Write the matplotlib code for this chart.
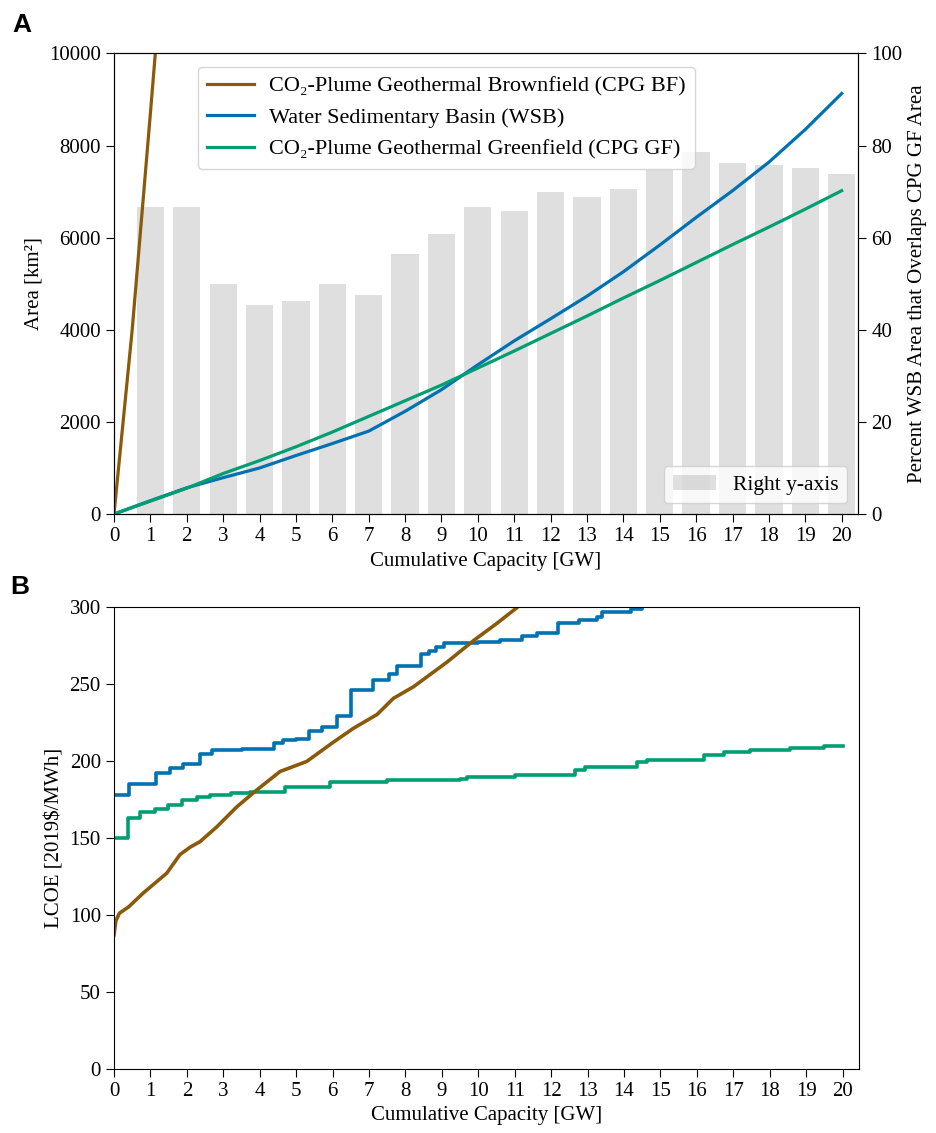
import numpy as np
import matplotlib
matplotlib.use("Agg")
import matplotlib.pyplot as plt

plt.rcParams['font.family'] = ['Liberation Serif', 'DejaVu Serif']
plt.rcParams['font.size'] = 15

# colours
c_bf = '#8a5a0a'
c_wsb = '#0072b2'
c_gf = '#009e73'

# panel A: cumulative area [km2] vs capacity [GW]
cap_a = [0, 1, 2, 3, 4, 5, 6, 7, 8, 9, 10, 11, 12, 13, 14, 15, 16, 17, 18, 19, 20]
area_wsb = [0, 290, 570, 790, 1000, 1270, 1530, 1800, 2230, 2700, 3240, 3760,
            4240, 4730, 5260, 5840, 6440, 7020, 7640, 8350, 9130]
area_gf = [0, 280, 560, 880, 1160, 1460, 1780, 2120, 2460, 2800, 3170, 3540,
           3920, 4300, 4690, 5070, 5460, 5850, 6230, 6620, 7020]
cap_bf_a = [0, 0.5, 1.0, 1.5]
area_bf = [0, 4000, 8700, 13500]

# percent of WSB area overlapping CPG GF area (right axis)
bar_gw = [1, 2, 3, 4, 5, 6, 7, 8, 9, 10, 11, 12, 13, 14, 15, 16, 17, 18, 19, 20]
overlap_pct = [66.7, 66.7, 50.0, 45.4, 46.2, 50.0, 47.5, 56.5, 60.9, 66.7,
               65.9, 69.9, 68.9, 70.5, 74.6, 78.5, 76.2, 75.7, 75.1, 73.8]

# panel B: LCOE supply curves
cap_wsb_b = [0, 0.42, 1.15, 1.54, 1.9, 2.36, 2.7, 3.5, 4.38, 4.63, 5.0, 5.34,
             5.72, 6.12, 6.5, 7.12, 7.56, 7.77, 8.43, 8.64, 8.85, 9.07, 10.0,
             10.6, 11.2, 11.6, 12.2, 12.76, 13.26, 13.4, 14.2, 14.5]
lcoe_wsb = [178, 185, 192, 195, 198, 204.5, 206.7, 207.5, 211.7, 213.4, 214,
            219.5, 222, 229.2, 245.9, 252.4, 256.1, 261.5, 269.3, 271.2, 274,
            276.2, 277, 278.4, 281, 283, 289.2, 291.4, 293.5, 296.8, 298.3, 302]

cap_gf_b = [0, 0.39, 0.71, 1.13, 1.49, 1.86, 2.27, 2.64, 3.2, 3.74, 4.7, 5.93,
            7.5, 9.5, 9.69, 11.0, 12.66, 12.94, 14.36, 14.63, 16.19, 16.74,
            17.47, 18.57, 19.49, 20.0]
lcoe_gf = [150, 163, 166.5, 168.8, 171.2, 174.5, 176.6, 177.7, 178.8, 179.9,
           183, 186.4, 187.2, 187.9, 189.6, 190.5, 194, 195.7, 199, 200.4,
           203.5, 205.8, 207, 208.4, 209.5, 209.5]

cap_bf_b = [0, 0.05, 0.15, 0.4, 0.8, 1.2, 1.45, 1.81, 2.1, 2.36, 2.82, 3.37,
            3.92, 4.56, 5.29, 6.02, 6.57, 7.22, 7.67, 8.22, 9.14, 9.87, 10.5, 11.2]
lcoe_bf = [87, 96, 101, 105, 114, 122, 127, 139, 144, 147.4, 157, 170, 181,
           193, 199.5, 212, 221, 230, 240.5, 248, 264, 278, 289, 302]

xticks = list(range(0, 21))

fig = plt.figure(figsize=(9.36, 11.33), dpi=100)
ax1 = fig.add_axes([0.1218, 0.5463, 0.7949, 0.4065])
ax2 = fig.add_axes([0.1218, 0.0568, 0.7959, 0.4077])

# ---- panel A
axr = ax1.twinx()
axr.bar(bar_gw, overlap_pct, width=0.75, color='gray', alpha=0.25,
        label='Right y-axis')
axr.set_ylim(0, 100)
axr.set_ylabel('Percent WSB Area that Overlaps CPG GF Area')
axr.legend(loc='lower right', fontsize=15.5)

ax1.set_zorder(axr.get_zorder() + 1)
ax1.patch.set_visible(False)
ax1.plot(cap_bf_a, area_bf, color=c_bf, lw=2.3,
         label='CO₂-Plume Geothermal Brownfield (CPG BF)')
ax1.plot(cap_a, area_wsb, color=c_wsb, lw=2.3,
         label='Water Sedimentary Basin (WSB)')
ax1.plot(cap_a, area_gf, color=c_gf, lw=2.3,
         label='CO₂-Plume Geothermal Greenfield (CPG GF)')
ax1.set_ylim(0, 10000)
ax1.set_xlim(0, 20.45)
ax1.set_xticks(xticks)
ax1.set_ylabel('Area [km²]')
ax1.set_xlabel('Cumulative Capacity [GW]')
ax1.legend(loc='upper left', bbox_to_anchor=(0.098, 0.995), fontsize=16,
           handlelength=2.1, handletextpad=0.7)

# ---- panel B
ax2.step(cap_wsb_b, lcoe_wsb, where='post', color=c_wsb, lw=2.6)
ax2.step(cap_gf_b, lcoe_gf, where='post', color=c_gf, lw=2.6)
ax2.plot(cap_bf_b, lcoe_bf, color=c_bf, lw=2.6)
ax2.set_ylim(0, 300)
ax2.set_xlim(0, 20.45)
ax2.set_xticks(xticks)
ax2.set_yticks(range(0, 301, 50))
ax2.set_ylabel('LCOE [2019$/MWh]')
ax2.set_xlabel('Cumulative Capacity [GW]')

for ax in (ax1, axr, ax2):
    ax.tick_params(labelsize=15, length=6)

fig.text(0.023, 0.978, 'A', fontsize=19, fontweight='bold',
         family='Liberation Sans', va='center', ha='center')
fig.text(0.021, 0.482, 'B', fontsize=19, fontweight='bold',
         family='Liberation Sans', va='center', ha='center')

fig.savefig('out.png', dpi=100)
